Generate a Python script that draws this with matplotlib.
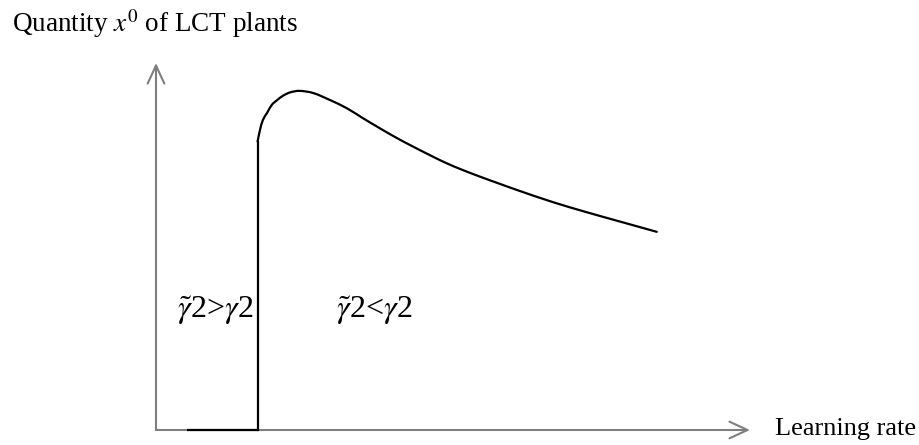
import matplotlib
matplotlib.use("Agg")
import matplotlib.pyplot as plt
from matplotlib.patches import FancyArrowPatch, PathPatch
from matplotlib.path import Path

plt.rcParams["font.family"] = ["Liberation Serif", "DejaVu Serif"]
plt.rcParams["mathtext.fontset"] = "stix"

# Schematic: learning rate (x) vs quantity of LCT plants (y), both in 0..1 units
zero_start = 0.052          # where the zero-quantity segment begins
threshold = 0.171           # learning rate at which the quantity jumps
curve_x = [0.171, 0.175, 0.180, 0.187, 0.195, 0.204, 0.214, 0.226, 0.242,
           0.265, 0.293, 0.321, 0.349, 0.377, 0.405, 0.433, 0.461, 0.489,
           0.517, 0.546, 0.580, 0.613, 0.668, 0.726, 0.781, 0.843]
curve_y = [0.786, 0.817, 0.845, 0.864, 0.886, 0.899, 0.911, 0.920, 0.924,
           0.918, 0.899, 0.877, 0.849, 0.822, 0.796, 0.772, 0.749, 0.727,
           0.708, 0.690, 0.670, 0.651, 0.621, 0.593, 0.568, 0.540]

y_label = "Quantity $x^0$ of LCT plants"
x_label = "Learning rate"
left_region = r"$\tilde{\gamma}$2>$\gamma$2"
right_region = r"$\tilde{\gamma}$2<$\gamma$2"


def smooth_path(xs, ys):
    """Catmull-Rom spline through the points, as cubic Bezier segments."""
    pts = list(zip(xs, ys))
    verts = [pts[0]]
    codes = [Path.MOVETO]
    n = len(pts)
    for i in range(n - 1):
        p0 = pts[i - 1] if i > 0 else pts[i]
        p1, p2 = pts[i], pts[i + 1]
        p3 = pts[i + 2] if i + 2 < n else pts[i + 1]
        c1 = (p1[0] + (p2[0] - p0[0]) / 6, p1[1] + (p2[1] - p0[1]) / 6)
        c2 = (p2[0] - (p3[0] - p1[0]) / 6, p2[1] - (p3[1] - p1[1]) / 6)
        verts += [c1, c2, p2]
        codes += [Path.CURVE4] * 3
    return Path(verts, codes)


W, H, DPI = 920, 445, 100
fig = plt.figure(figsize=(W / DPI, H / DPI), dpi=DPI)
ax = fig.add_axes([156 / W, 15 / H, 594 / W, 367 / H])
ax.set_xlim(0, 1)
ax.set_ylim(0, 1)
ax.axis("off")

axis_color = "#7f7f7f"
for end in [(1, 0), (0, 1)]:
    arr = FancyArrowPatch((0, 0), end, transform=ax.transData,
                          arrowstyle="->,head_length=0.65,head_width=0.3",
                          mutation_scale=20, color=axis_color, lw=1.5,
                          shrinkA=0, shrinkB=0, clip_on=False)
    ax.add_patch(arr)

# zero quantity below the threshold, jump, then the hump-shaped curve
ax.plot([zero_start, threshold], [0, 0], color="black", lw=1.6,
        solid_capstyle="butt", clip_on=False)
ax.plot([threshold, threshold], [0, curve_y[0]], color="black", lw=1.6,
        clip_on=False)
ax.add_patch(PathPatch(smooth_path(curve_x, curve_y), facecolor="none",
                       edgecolor="black", lw=1.6, clip_on=False,
                       capstyle="round", joinstyle="round"))

fs = 19
fig.text(12 / W, 1 - 32 / H, y_label, fontsize=19.5, va="baseline", ha="left")
fig.text(775 / W, 1 - 435 / H, x_label, fontsize=fs, va="baseline", ha="left")
fig.text(177 / W, 1 - 318 / H, left_region, fontsize=23, va="baseline", ha="left")
fig.text(336 / W, 1 - 318 / H, right_region, fontsize=23, va="baseline", ha="left")

fig.savefig("out.png", dpi=DPI)
